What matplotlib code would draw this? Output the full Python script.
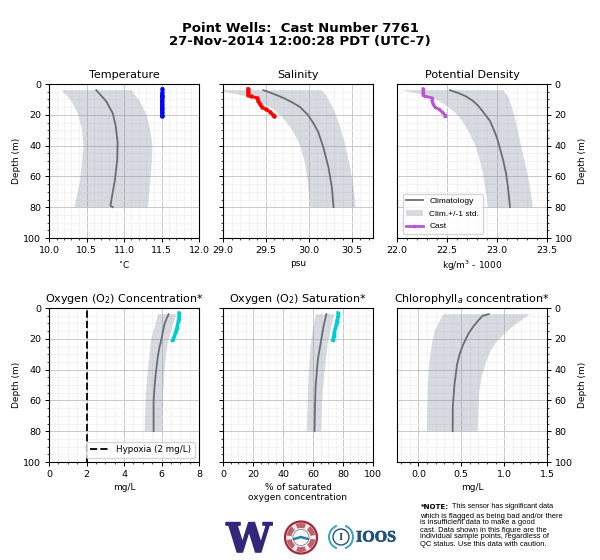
import matplotlib
matplotlib.use("Agg")
import numpy as np
from matplotlib import pyplot as plt
from matplotlib import patheffects
from matplotlib.patches import Circle, Wedge

# depths the climatology was read at are kept with each series
temp_d = [4, 11, 19, 27.5, 38, 49, 62, 73, 79, 80]
temp_clim = [10.63, 10.76, 10.85, 10.89, 10.915, 10.91, 10.88, 10.84, 10.82, 10.85]
temp_sd = [4, 11, 20, 30, 40, 51, 64, 75, 80]
temp_lo = [10.17, 10.30, 10.39, 10.44, 10.46, 10.44, 10.41, 10.36, 10.34]
temp_hi = [11.10, 11.21, 11.30, 11.35, 11.38, 11.37, 11.35, 11.33, 11.32]

sal_d = [4, 6, 8, 10, 12, 15, 20, 25, 31, 41, 54, 67, 80]
sal_clim = [29.47, 29.57, 29.66, 29.74, 29.81, 29.90, 29.99, 30.05, 30.11, 30.17, 30.23, 30.27, 30.29]
sal_lo_d = [4, 5, 8, 11, 16, 22, 30, 40, 50, 60, 80]
sal_lo = [29.0, 29.0, 29.27, 29.42, 29.58, 29.70, 29.81, 29.90, 29.95, 29.98, 30.02]
sal_hi_d = [4, 7, 15, 25, 38, 53, 66, 80]
sal_hi = [30.15, 30.20, 30.28, 30.35, 30.42, 30.48, 30.52, 30.55]

dens_d = [4, 6, 8, 11, 14, 18, 24, 30, 35, 42, 49, 58, 67, 80]
dens_clim = [22.53, 22.62, 22.69, 22.76, 22.81, 22.86, 22.93, 22.97, 23.00, 23.03, 23.06, 23.09, 23.11, 23.13]
dens_lo_d = [4, 6, 9, 13, 17, 21, 30, 41, 50, 58, 80]
dens_lo = [22.04, 22.20, 22.36, 22.47, 22.55, 22.62, 22.71, 22.79, 22.83, 22.86, 22.91]
dens_hi_d = [4, 8, 15, 25, 40, 54, 67, 80]
dens_hi = [23.06, 23.11, 23.15, 23.19, 23.24, 23.29, 23.33, 23.36]

oxy_d = [4, 7, 10, 15, 20, 25, 31, 37, 43, 51, 60, 70, 80]
oxy_clim = [6.38, 6.27, 6.17, 6.08, 6.00, 5.90, 5.81, 5.75, 5.69, 5.63, 5.58, 5.58, 5.58]
oxy_lo_d = [4, 12, 20, 30, 39, 56, 80]
oxy_lo = [5.81, 5.64, 5.46, 5.36, 5.28, 5.16, 5.10]
oxy_hi_d = [4, 11, 22, 30, 39, 56, 80]
oxy_hi = [6.80, 6.60, 6.35, 6.25, 6.17, 6.08, 6.03]

sat_d = [4, 12, 20, 33, 50, 65, 80]
sat_clim = [68.9, 67.0, 65.6, 63.3, 61.8, 61.3, 61.0]
sat_lo_d = [4, 13, 28, 50, 80]
sat_lo = [62.0, 60.0, 58.0, 56.8, 56.0]
sat_hi_d = [4, 13, 22, 43, 60, 80]
sat_hi = [74.4, 72.0, 70.0, 67.5, 66.0, 65.5]

chl_d = [4, 5, 8, 12, 17, 24, 30, 37, 50, 65, 80]
chl_clim = [0.82, 0.75, 0.70, 0.64, 0.58, 0.52, 0.48, 0.45, 0.42, 0.40, 0.40]
chl_lo_d = [4, 8, 15, 22, 30, 40, 50, 65, 80]
chl_lo = [0.29, 0.25, 0.19, 0.16, 0.14, 0.12, 0.11, 0.105, 0.10]
chl_hi_d = [4, 8, 12, 17, 22, 28, 35, 44, 54, 65, 80]
chl_hi = [1.30, 1.20, 1.10, 1.00, 0.91, 0.84, 0.79, 0.74, 0.71, 0.70, 0.69]

cast_d = [3, 5, 7, 8, 9, 11, 13, 15, 16.5, 18, 20, 21]
cast_temp = [11.51, 11.51, 11.50, 11.50, 11.50, 11.50, 11.50, 11.50, 11.50, 11.50, 11.50, 11.50]
cast_sal = [29.29, 29.29, 29.29, 29.33, 29.40, 29.41, 29.43, 29.45, 29.50, 29.55, 29.58, 29.60]
cast_dens = [22.26, 22.26, 22.26, 22.28, 22.35, 22.35, 22.36, 22.38, 22.42, 22.45, 22.48, 22.48]
cast_oxy = [6.92, 6.92, 6.91, 6.90, 6.88, 6.85, 6.80, 6.75, 6.72, 6.68, 6.62, 6.58]
cast_sat = [76.5, 76.5, 76.2, 76.0, 75.7, 75.2, 74.8, 74.3, 74.0, 73.7, 73.2, 73.0]

hypoxia = 2
note_lines = ["which is flagged as being bad and/or there", "is insufficient data to make a good",
              "cast. Data shown in this figure are the", "individual sample points, regardless of",
              "QC status. Use this data with caution."]

GREY = "#6b6e70"
FILL = "#7d899c"
W, H = 600.0, 560.0

plt.rcParams["font.family"] = "DejaVu Sans"
plt.rcParams["mathtext.default"] = "regular"
fig = plt.figure(figsize=(6, 5.6), dpi=100)
fig.text(0.5, 1 - 28 / H, "Point Wells:  Cast Number 7761", ha="center", va="center", fontsize=9.5, weight="bold")
fig.text(0.5, 1 - 42 / H, "27-Nov-2014 12:00:28 PDT (UTC-7)", ha="center", va="center", fontsize=9.5, weight="bold")


def panel(x0, y0, title, xlabel, xlim, major, minor, side):
    ax = fig.add_axes([x0 / W, 1 - (y0 + 154) / H, 150 / W, 154 / H])
    ax.set_xlim(*xlim)
    ax.set_ylim(100, 0)
    ax.set_xticks(major)
    ax.set_xticks(minor, minor=True)
    ax.set_yticks(np.arange(0, 101, 20))
    ax.set_yticks(np.arange(0, 101, 5), minor=True)
    ax.grid(which="major", color="#c8c8c8", lw=0.7)
    ax.grid(which="minor", color="#f3f3f3", lw=0.8)
    ax.set_axisbelow(True)
    ax.tick_params(which="major", labelsize=6.8, length=3, width=0.7, pad=2.5)
    ax.tick_params(which="minor", length=1.5, width=0.5)
    for s in ax.spines.values():
        s.set_linewidth(0.8)
    ax.set_title(title, fontsize=8, pad=4)
    ax.set_xlabel(xlabel, fontsize=6.5, labelpad=3)
    if side == "left":
        ax.set_ylabel("Depth (m)", fontsize=6.5, labelpad=2)
    elif side == "right":
        ax.yaxis.tick_right()
        ax.yaxis.set_label_position("right")
        ax.set_ylabel("Depth (m)", fontsize=6.5, labelpad=4)
    else:
        ax.tick_params(axis="y", labelleft=False)
    return ax


def draw(ax, d, clim, lo_d, lo, hi_d, hi, cast=None, color=None, ms=2.2):
    # shaded band made of the two read edges, see-through so the grid shows
    xs = list(lo) + list(hi)[::-1]
    ys = list(lo_d) + list(hi_d)[::-1]
    ax.fill(xs, ys, color=FILL, alpha=0.3, lw=0, label="Clim.+/-1 std.")
    ax.plot(clim, d, color=GREY, lw=1.3, label="Climatology")
    if cast is not None:
        ax.plot(cast, cast_d, color=color, lw=2, marker="o", ms=ms, label="Cast")


ax1 = panel(49, 84, "Temperature", r"$^{\circ}$C", (10, 12), np.arange(10, 12.1, 0.5), np.arange(10, 12.01, 0.1), "left")
draw(ax1, temp_d, temp_clim, temp_sd, temp_lo, temp_sd, temp_hi, cast_temp, "#0000ff")

ax2 = panel(223, 84, "Salinity", "psu", (29, 30.75), np.arange(29, 30.6, 0.5), np.arange(29, 30.76, 0.1), "none")
draw(ax2, sal_d, sal_clim, sal_lo_d, sal_lo, sal_hi_d, sal_hi, cast_sal, "#ff0000")

ax3 = panel(397, 84, "Potential Density", r"kg/m$^{3}$ - 1000", (22, 23.5), np.arange(22, 23.6, 0.5), np.arange(22, 23.51, 0.1), "right")
draw(ax3, dens_d, dens_clim, dens_lo_d, dens_lo, dens_hi_d, dens_hi, cast_dens, "#ba55d3", ms=1.6)
handles, labels = ax3.get_legend_handles_labels()
order = [labels.index("Climatology"), labels.index("Clim.+/-1 std."), labels.index("Cast")]
ax3.legend([handles[i] for i in order], [labels[i] for i in order], loc="lower left",
           bbox_to_anchor=(0.01, 0.0), prop={"family": "Liberation Sans", "size": 6},
           framealpha=0.8, borderpad=0.4, labelspacing=0.6)

ax4 = panel(49, 308, r"Oxygen (O$_{2}$) Concentration*", "mg/L", (0, 8), np.arange(0, 8.1, 2), np.arange(0, 8.01, 0.5), "left")
draw(ax4, oxy_d, oxy_clim, oxy_lo_d, oxy_lo, oxy_hi_d, oxy_hi, cast_oxy, "#00ced1", ms=1.8)
hyp = ax4.axvline(hypoxia, color="#111111", lw=1.4, ls="--")
ax4.legend([hyp], ["Hypoxia (2 mg/L)"], loc="lower right", bbox_to_anchor=(1.0, 0.0), fontsize=6.3,
           framealpha=0.8, borderpad=0.4, handlelength=2.2)

ax5 = panel(223, 308, r"Oxygen (O$_{2}$) Saturation*", "% of saturated\noxygen concentration", (0, 100), np.arange(0, 101, 20), np.arange(0, 101, 5), "none")
draw(ax5, sat_d, sat_clim, sat_lo_d, sat_lo, sat_hi_d, sat_hi, cast_sat, "#00ced1", ms=1.8)

ax6 = panel(397, 308, r"Chlorophyll$_{\mathit{a}}$ concentration*", "mg/L", (-0.25, 1.5), np.arange(0, 1.6, 0.5), np.arange(-0.2, 1.51, 0.1), "right")
draw(ax6, chl_d, chl_clim, chl_lo_d, chl_lo, chl_hi_d, chl_hi)

# footer: logos sit on a full-figure axes in pixel units
foot = fig.add_axes([0, 0, 1, 1], facecolor="none")
foot.set_xlim(0, W)
foot.set_ylim(H, 0)
foot.axis("off")
uw = foot.text(249, 552, "W", family="DejaVu Serif", weight="bold", fontsize=29, color="#33277b", ha="center", va="baseline")
uw.set_path_effects([patheffects.withStroke(linewidth=1.2, foreground="#33277b")])
foot.add_patch(Circle((301, 537.5), 16, fc="#f6eeee", ec="#a3283c", lw=1.6))
for a in range(0, 360, 60):
    foot.add_patch(Wedge((301, 537.5), 14.5, a + 8, a + 50, width=5, fc="#a3283c", ec="none", alpha=0.7))
foot.add_patch(Circle((301, 537.5), 8, fc="#f4f8fa", ec="#777777", lw=0.5))
foot.plot([294, 301, 308], [539, 537, 539], color="#2a7fa5", lw=1.8)
foot.add_patch(Wedge((341, 537), 13, 110, 250, width=2, fc="#3aa6b9", ec="none"))
foot.add_patch(Wedge((341, 537), 13, -70, 70, width=2, fc="#3aa6b9", ec="none"))
foot.add_patch(Circle((341, 537), 8, fc="none", ec="#24517a", lw=1))
foot.text(341, 537, "I", family="Liberation Serif", weight="bold", fontsize=8, color="#24517a", ha="center", va="center")
ioos = foot.text(376, 537.5, "IOOS", family="Liberation Serif", weight="bold", fontsize=11.5, color="#24517a", ha="center", va="center")
ioos.set_path_effects([patheffects.withStroke(linewidth=0.5, foreground="#24517a")])

foot.text(421, 507, "*NOTE:", fontsize=5, weight="bold", va="center", family="DejaVu Sans")
foot.text(452, 507, "This sensor has significant data", fontsize=5.2, va="center", family="Liberation Sans")
for text, y in zip(note_lines, [516.5, 522.5, 531, 537, 545]):
    foot.text(420, y, text, fontsize=5.4, va="center", family="Liberation Sans")

fig.savefig("out.png", dpi=100)
